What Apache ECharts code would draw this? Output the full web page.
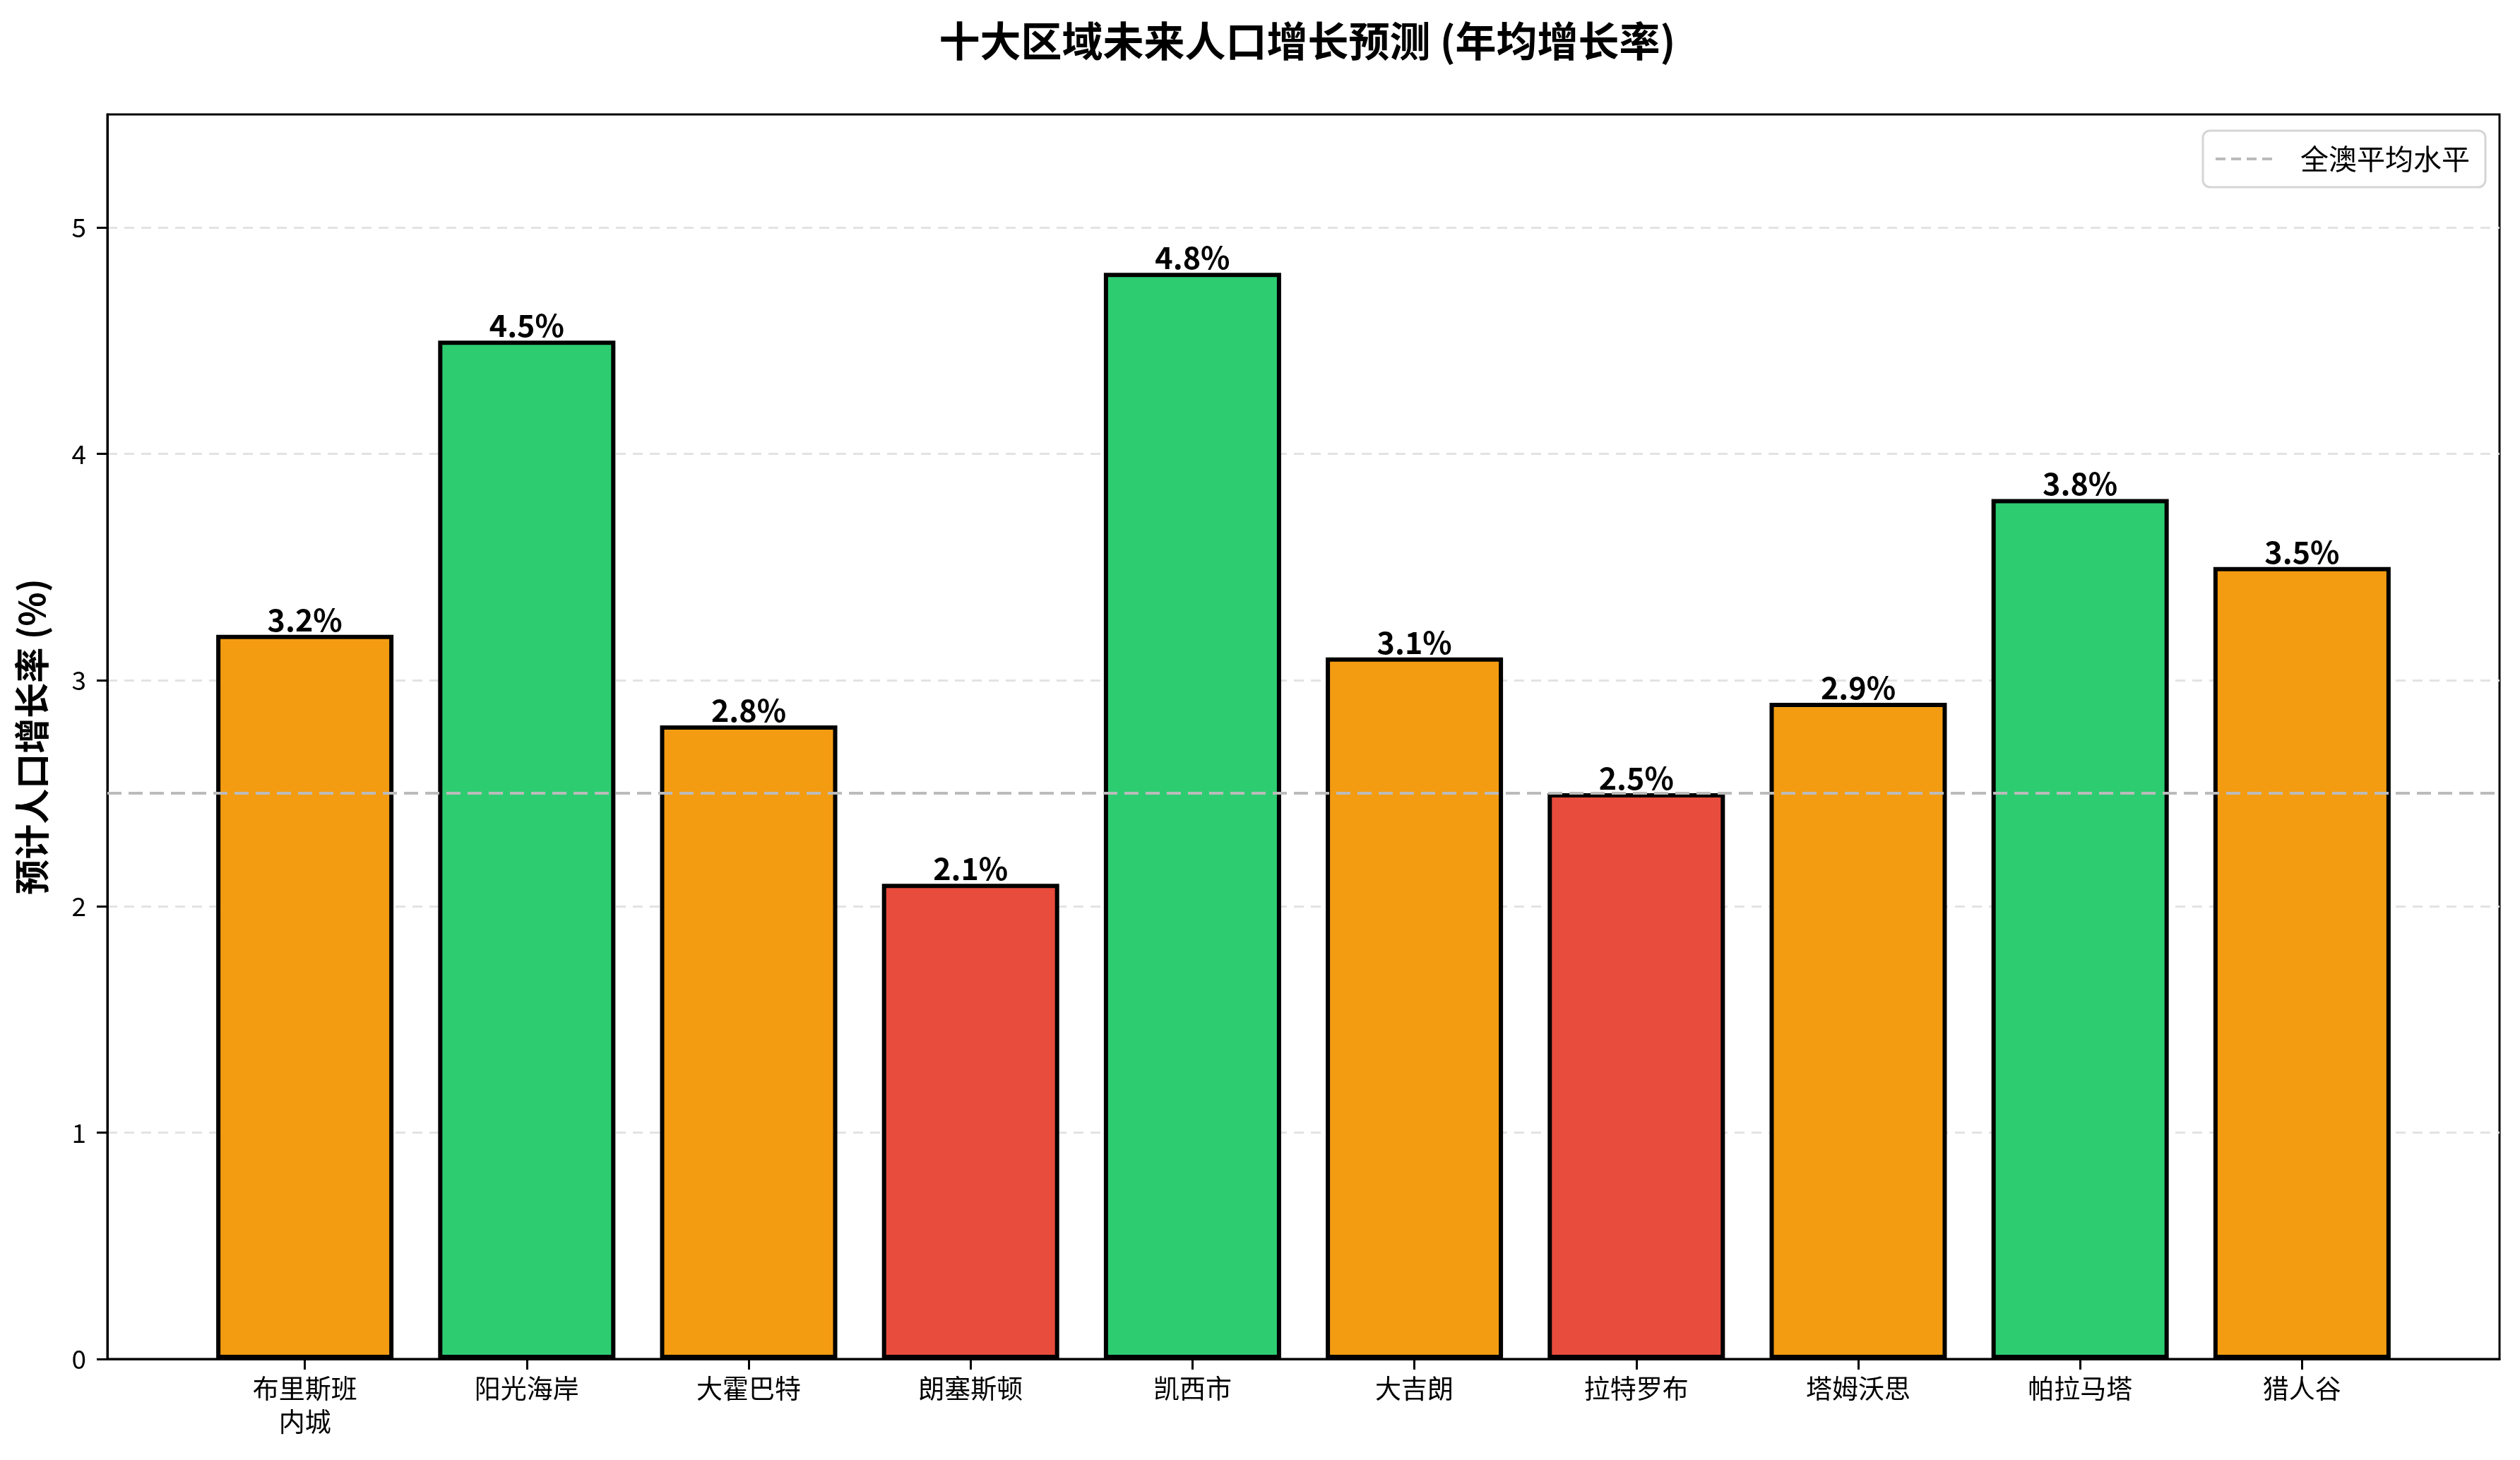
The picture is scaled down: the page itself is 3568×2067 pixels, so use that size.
<!DOCTYPE html>
<html>
<head>
<meta charset="utf-8">
<script src="https://cdn.jsdelivr.net/npm/echarts@6/dist/echarts.min.js"></script>
<style>
  html, body { margin: 0; padding: 0; background: #fff; }
  #chart { width: 3568px; height: 2067px; }
</style>
</head>
<body>
<div id="chart"></div>
<script>
const regions = ['布里斯班\n内城', '阳光海岸', '大霍巴特', '朗塞斯顿', '凯西市', '大吉朗', '拉特罗布', '塔姆沃思', '帕拉马塔', '猎人谷'];
const growthRates = [3.2, 4.5, 2.8, 2.1, 4.8, 3.1, 2.5, 2.9, 3.8, 3.5];
const avgLevel = 2.5;
const yTicks = [0, 1, 2, 3, 4, 5];

const FONT = 'Noto Sans CJK SC';

// 高于3.5绿色，高于2.5橙色，其余红色
function barColor(v) {
  if (v > 3.5) return '#2ECC71';
  if (v > 2.5) return '#F39C12';
  return '#E74C3C';
}

const positions = regions.map((r, i) => i);

// 图例里的虚线图标
const dashIcon = 'path://M0,0h14v4h-14z M22,0h14v4h-14z M44,0h14v4h-14z M66,0h14v4h-14z';

const chart = echarts.init(document.getElementById('chart'));

const option = {
  backgroundColor: '#fff',
  animation: false,
  title: {
    text: '十大区域未来人口增长预测 (年均增长率)',
    left: 1846,
    top: 24,
    textAlign: 'center',
    textStyle: { fontFamily: FONT, fontSize: 58, fontWeight: 'bold', color: '#000' }
  },
  legend: {
    data: [{ name: '全澳平均水平', icon: dashIcon }],
    right: 49,
    top: 185,
    orient: 'vertical',
    padding: [20, 22, 20, 18],
    itemWidth: 80,
    itemHeight: 4,
    borderColor: '#d5d5d5',
    borderWidth: 3,
    borderRadius: 10,
    backgroundColor: 'rgba(255,255,255,0.8)',
    textStyle: { fontFamily: FONT, fontSize: 40, color: '#000', padding: [0, 0, 0, 35] }
  },
  grid: {
    left: 152,
    right: 29,
    top: 162,
    bottom: 143,
    containLabel: false,
    outerBoundsMode: 'none',
    show: true,
    borderColor: '#000',
    borderWidth: 3
  },
  xAxis: {
    type: 'value',
    min: -0.89,
    max: 9.89,
    axisLine: { show: true, onZero: false, lineStyle: { color: '#000', width: 3 } },
    axisTick: {
      show: true,
      customValues: positions,
      length: 15,
      lineStyle: { color: '#000', width: 3 }
    },
    splitLine: { show: false },
    axisLabel: {
      customValues: positions,
      margin: 18,
      fontFamily: FONT,
      fontSize: 37,
      lineHeight: 47,
      color: '#000',
      formatter: v => regions[Math.round(v)]
    }
  },
  yAxis: {
    type: 'value',
    min: 0,
    max: 5.5,
    interval: 1,
    name: '预计人口增长率 (%)',
    nameLocation: 'middle',
    nameGap: 82,
    nameTextStyle: { fontFamily: FONT, fontSize: 50, fontWeight: 'bold', color: '#000' },
    axisLine: { show: true, onZero: false, lineStyle: { color: '#000', width: 3 } },
    axisTick: { show: true, length: 15, lineStyle: { color: '#000', width: 3 } },
    axisLabel: {
      showMaxLabel: false,
      margin: 30,
      fontFamily: FONT,
      fontSize: 37,
      color: '#000',
      formatter: v => (yTicks.indexOf(v) >= 0 ? String(v) : '')
    },
    splitLine: {
      show: true,
      showMaxLine: false,
      lineStyle: { color: '#e3e3e3', width: 3, type: [14, 10] }
    }
  },
  series: [
    {
      type: 'bar',
      name: '增长率',
      barWidth: 251,
      data: growthRates.map((v, i) => ({
        value: [i, v],
        itemStyle: { color: barColor(v) }
      })),
      itemStyle: { borderColor: '#000', borderWidth: 6 },
      label: {
        show: true,
        position: 'top',
        distance: 0,
        fontFamily: FONT,
        fontSize: 43,
        fontWeight: 'bold',
        color: '#000',
        formatter: p => p.value[1].toFixed(1) + '%'
      },
      z: 2
    },
    {
      type: 'line',
      name: '全澳平均水平',
      data: [],
      symbol: 'none',
      lineStyle: { color: '#bbbbbb', width: 4, type: [14, 8] },
      itemStyle: { color: '#bbbbbb' },
      z: 5,
      markLine: {
        silent: true,
        symbol: 'none',
        label: { show: false },
        lineStyle: { color: '#bbbbbb', width: 4, type: [20, 10] },
        data: [{ yAxis: avgLevel }]
      }
    }
  ]
};

chart.setOption(option);
</script>
</body>
</html>
